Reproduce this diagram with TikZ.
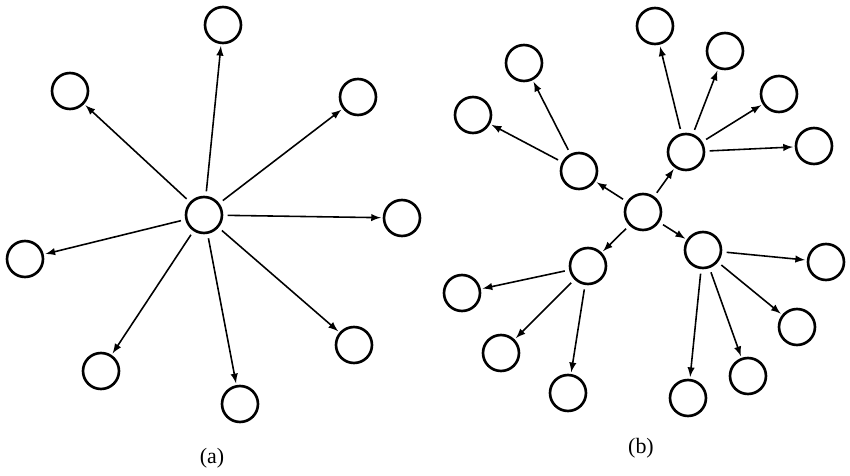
\documentclass[tikz,border=0pt]{standalone}
\usepackage{fontspec}
\setmainfont{Liberation Serif}
\tikzset{>=latex}
\tikzset{
  vertex/.style={circle,draw,line width=1.5pt,minimum size=0.72cm,inner sep=0pt},
  link/.style={->,line width=0.9pt,shorten <=2.5pt,shorten >=1pt},
  caption/.style={font=\fontsize{12.5}{15}\selectfont},
}
\begin{document}
\begin{tikzpicture}[x=0.02cm,y=-0.02cm]
  \useasboundingbox (0,0) rectangle (850,476);
  % (a) star
  \node[vertex] (a0) at (204,215) {};
  \node[vertex] (a1) at (223,25) {};
  \node[vertex] (a2) at (358,97) {};
  \node[vertex] (a3) at (402,218) {};
  \node[vertex] (a4) at (354,345) {};
  \node[vertex] (a5) at (240,404) {};
  \node[vertex] (a6) at (101,371) {};
  \node[vertex] (a7) at (25,259) {};
  \node[vertex] (a8) at (70,91) {};
  \draw[link] (a0) -- (a1);
  \draw[link] (a0) -- (a2);
  \draw[link] (a0) -- (a3);
  \draw[link] (a0) -- (a4);
  \draw[link] (a0) -- (a5);
  \draw[link] (a0) -- (a6);
  \draw[link] (a0) -- (a7);
  \draw[link] (a0) -- (a8);
  \node[caption] (capa) at (212,458) {(a)};
  % (b) two levels
  \node[vertex] (b0) at (643,212) {};
  \node[vertex] (b1) at (579,171) {};
  \node[vertex] (b2) at (686,152) {};
  \node[vertex] (b3) at (703,250) {};
  \node[vertex] (b4) at (588,266) {};
  \node[vertex] (b11) at (524,63) {};
  \node[vertex] (b12) at (473,115) {};
  \node[vertex] (b21) at (655,26) {};
  \node[vertex] (b22) at (725,51) {};
  \node[vertex] (b23) at (779,94) {};
  \node[vertex] (b24) at (814,146) {};
  \node[vertex] (b31) at (826,262) {};
  \node[vertex] (b32) at (797,327) {};
  \node[vertex] (b33) at (748,376) {};
  \node[vertex] (b34) at (688,398) {};
  \node[vertex] (b41) at (462,293) {};
  \node[vertex] (b42) at (501,353) {};
  \node[vertex] (b43) at (568,393) {};
  \draw[link] (b0) -- (b1);
  \draw[link] (b0) -- (b2);
  \draw[link] (b0) -- (b3);
  \draw[link] (b0) -- (b4);
  \draw[link] (b1) -- (b11);
  \draw[link] (b1) -- (b12);
  \draw[link] (b2) -- (b21);
  \draw[link] (b2) -- (b22);
  \draw[link] (b2) -- (b23);
  \draw[link] (b2) -- (b24);
  \draw[link] (b3) -- (b31);
  \draw[link] (b3) -- (b32);
  \draw[link] (b3) -- (b33);
  \draw[link] (b3) -- (b34);
  \draw[link] (b4) -- (b41);
  \draw[link] (b4) -- (b42);
  \draw[link] (b4) -- (b43);
  \node[caption] (capb) at (641,448) {(b)};
\end{tikzpicture}
\end{document}
